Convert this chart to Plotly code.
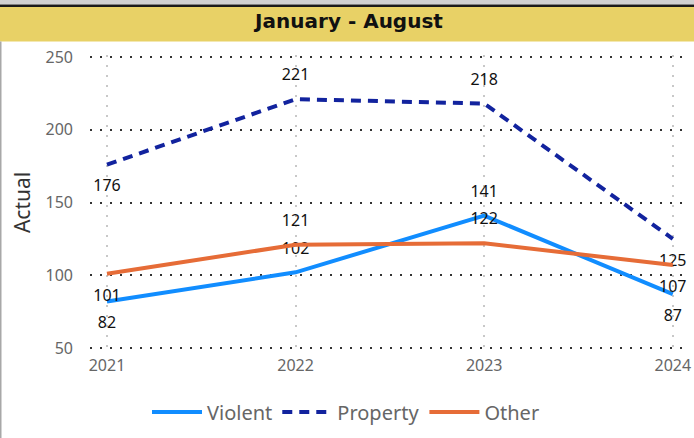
import plotly.graph_objects as go

years = [2021, 2022, 2023, 2024]
violent = [82, 102, 141, 87]
property_ = [176, 221, 218, 125]
other = [101, 121, 122, 107]
y_ticks = [50, 100, 150, 200, 250]

W, H = 694, 438
ML, MR, MT, MB = 90, 8, 55, 88
PH = H - MT - MB
PW = W - ML - MR

def py(p):
    return (H - MB - p) / PH

def px(p):
    return (p - ML) / PW

pos = ["bottom center", "top center", "top center", "bottom center"]
lbl_font = dict(family="Segoe UI, Noto Sans, Open Sans", size=16, color="#111")

fig = go.Figure()
series = [
    ("Violent", violent, "#118DFF", "solid"),
    ("Property", property_, "#12239E", "10px,7px"),
    ("Other", other, "#E66C37", "solid"),
]
for name, vals, col, dash in series:
    fig.add_trace(go.Scatter(
        x=years, y=vals, name=name, mode="lines+markers+text",
        line=dict(color=col, width=4, dash=dash),
        marker=dict(size=22, color="rgba(0,0,0,0)", line=dict(width=0)),
        text=[str(v) for v in vals], textposition=pos, textfont=lbl_font,
        hoverinfo="skip", cliponaxis=False,
    ))

shapes = [
    dict(type="rect", xref="paper", yref="paper", x0=px(0), x1=px(W), y0=py(0), y1=py(4.5),
         fillcolor="#D0D0D0", line=dict(width=0), layer="below"),
    dict(type="rect", xref="paper", yref="paper", x0=px(0), x1=px(W), y0=py(4.5), y1=py(7),
         fillcolor="#1a1a1a", line=dict(width=0), layer="below"),
    dict(type="rect", xref="paper", yref="paper", x0=px(0), x1=px(W), y0=py(7), y1=py(41.5),
         fillcolor="#E8D166", line=dict(width=0), layer="below"),
    dict(type="rect", xref="paper", yref="paper", x0=px(0), x1=px(1.5), y0=py(41.5), y1=py(H),
         fillcolor="#A8A8A8", line=dict(width=0), layer="below"),
]

fig.update_layout(
    width=W, height=H,
    margin=dict(l=ML, r=MR, t=MT, b=MB, autoexpand=False),
    paper_bgcolor="white", plot_bgcolor="white",
    font=dict(family="Segoe UI, Noto Sans, Open Sans", color="#666"),
    shapes=shapes,
    title=dict(text="<b>January - August</b>", x=px(349), xref="paper", xanchor="center",
               y=1 - 21 / H, yref="container", yanchor="middle",
               font=dict(family="DejaVu Sans", size=20, color="#111")),
    showlegend=True,
    legend=dict(orientation="h", x=px(346), xanchor="center", y=py(412), yanchor="middle",
                font=dict(size=20, color="#666"), itemwidth=50, traceorder="normal"),
    xaxis=dict(range=[2020.91, 2024.07], tickvals=years, ticktext=[str(y) for y in years],
               showgrid=True, gridcolor="#C8C8C8", gridwidth=2, griddash="2px,8px",
               zeroline=False, showline=False, ticks="", tickfont=dict(size=16, color="#666"),
               ticklabelstandoff=4, automargin=False),
    yaxis=dict(range=[48.625, 251.375], tickvals=y_ticks, showgrid=True, gridcolor="#333",
               gridwidth=2, griddash="2px,8px", zeroline=False, showline=False, ticks="",
               tickfont=dict(size=16, color="#666"), ticklabelstandoff=16, automargin=False,
               title=dict(text="Actual", font=dict(size=21, color="#333"), standoff=9)),
)

fig.write_html("out.html", config={"displayModeBar": False},
               post_script="document.body.style.margin='0';document.body.style.overflow='hidden';")
